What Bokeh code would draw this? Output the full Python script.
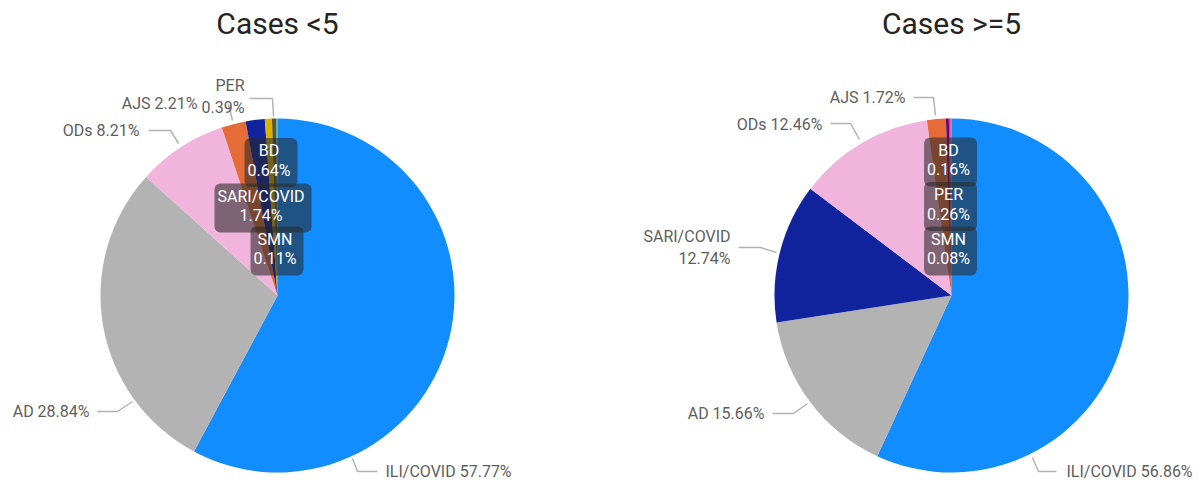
import math
from bokeh.plotting import figure
from bokeh.models import Range1d, Label
from bokeh.core.properties import value
from bokeh.embed import file_html
from bokeh.resources import INLINE

# ---------------- data ----------------
left_title = "Cases <5"
left_cats = ["ILI/COVID", "AD", "ODs", "AJS", "SARI/COVID", "BD", "PER", "SMN"]
left_vals = [57.77, 28.84, 8.21, 2.21, 1.74, 0.64, 0.39, 0.11]

right_title = "Cases >=5"
right_cats = ["ILI/COVID", "AD", "SARI/COVID", "ODs", "AJS", "PER", "BD", "SMN"]
right_vals = [56.86, 15.66, 12.74, 12.46, 1.72, 0.26, 0.16, 0.08]

# ---------------- styles ----------------
left_colors = {"ILI/COVID": "#118DFF", "AD": "#B3B3B3", "ODs": "#F1B4DC", "AJS": "#E66C37",
               "SARI/COVID": "#12239E", "BD": "#D9B300", "PER": "#5A5A2A", "SMN": "#4A9A9A"}
right_colors = {"ILI/COVID": "#118DFF", "AD": "#B3B3B3", "ODs": "#F1B4DC", "AJS": "#E66C37",
                "SARI/COVID": "#12239E", "PER": "#6B007B", "BD": "#D64550", "SMN": "#E044A7"}

W, H = 1198, 480
FONT = "Roboto"
LABEL_COLOR = "#605E5C"
LINE_COLOR = "#B3B3B3"
R = 177

def Y(py):
    return H - py

# layout of the pies (pixel positions)
pies = [
    dict(title=left_title, cats=left_cats, vals=left_vals, colors=left_colors, cx=277, cy=295,
         outside={
             "ILI/COVID": dict(pos=(385, 471), align="left", lead=[(352, 458), (357, 471), (377, 471)], two=False),
             "AD": dict(pos=(89, 411), align="right", lead=[(132, 401), (117, 411), (97, 411)], two=False),
             "ODs": dict(pos=(139, 130), align="right", lead=[(178, 143), (170, 130), (148, 130)], two=False),
             "AJS": dict(pos=(197, 103), align="right", lead=[(232, 120), (228, 104)], two=False),
             "PER": dict(pos=(244, 96), align="right", lead=[(249, 98), (272, 98), (273, 116)], two=True),
         },
         boxes={"BD": (270.5, 162, True), "SARI/COVID": (262.5, 207.5, True), "SMN": (276.5, 250.5, True)}),
    dict(title=right_title, cats=right_cats, vals=right_vals, colors=right_colors, cx=951, cy=295,
         outside={
             "ILI/COVID": dict(pos=(1066, 471), align="left", lead=[(1032, 457), (1038, 471), (1056, 471)], two=False),
             "AD": dict(pos=(764, 413), align="right", lead=[(807, 403), (793, 413), (772, 413)], two=False),
             "SARI/COVID": dict(pos=(730, 247), align="right", lead=[(776, 252), (760, 247), (738, 247)], two=True),
             "ODs": dict(pos=(822, 124), align="right", lead=[(859, 139), (850, 123), (830, 123)], two=False),
             "AJS": dict(pos=(905, 97), align="right", lead=[(935, 115), (933, 97), (913, 97)], two=False),
         },
         boxes={"BD": (950, 161.5, True), "PER": (950, 206, True), "SMN": (950, 250.5, True)}),
]

p = figure(width=W, height=H, x_range=Range1d(0, W), y_range=Range1d(0, H),
           output_backend="svg", toolbar_location=None, min_border=0)
p.axis.visible = False
p.grid.visible = False
p.outline_line_color = None
p.background_fill_color = "white"
p.border_fill_color = "white"

for pie in pies:
    vals = pie["vals"]
    total = sum(vals)
    starts, ends, cols = [], [], []
    cum = 0.0
    for c, v in zip(pie["cats"], vals):
        a0 = math.pi / 2 - 2 * math.pi * cum / total
        cum += v
        a1 = math.pi / 2 - 2 * math.pi * cum / total
        starts.append(a1)
        ends.append(a0)
        cols.append(pie["colors"][c])
    n = len(vals)
    p.wedge(x=[pie["cx"]] * n, y=[Y(pie["cy"])] * n, radius=R,
            start_angle=starts, end_angle=ends, direction="anticlock",
            fill_color=cols, line_color=None)

    # title
    p.text(x=[pie["cx"]], y=[Y(23)], text=[pie["title"]], text_align="center",
           text_baseline="middle", text_font=value(FONT), text_font_size="30px",
           text_color="#252423", text_font_style="normal")

    # outside labels
    for c, v in zip(pie["cats"], vals):
        if c in pie["outside"]:
            o = pie["outside"][c]
            sep = "\n" if o["two"] else " "
            txt = f"{c}{sep}{v:.2f}%"
            p.text(x=[o["pos"][0]], y=[Y(o["pos"][1])], text=[txt], text_align=o["align"],
                   text_baseline="middle", text_font=value(FONT), text_font_size="16px",
                   text_color=LABEL_COLOR, text_line_height=1.15)
            xs = [pt[0] for pt in o["lead"]]
            ys = [Y(pt[1]) for pt in o["lead"]]
            p.line(xs, ys, line_color=LINE_COLOR, line_width=1.5)
        if c in pie["boxes"]:
            bx, by, two = pie["boxes"][c]
            txt = f"{c}\n{v:.2f}%"
            lab = Label(x=bx, y=Y(by), text=txt, text_align="center", text_baseline="middle",
                        text_font=FONT, text_font_size="16px", text_color="white",
                        text_line_height=1.05,
                        background_fill_color="#2A2A2A", background_fill_alpha=0.58,
                        border_radius=6, padding=(3, 7, 3, 7))
            p.add_layout(lab)

open("out.html", "w").write(file_html(p, INLINE))
